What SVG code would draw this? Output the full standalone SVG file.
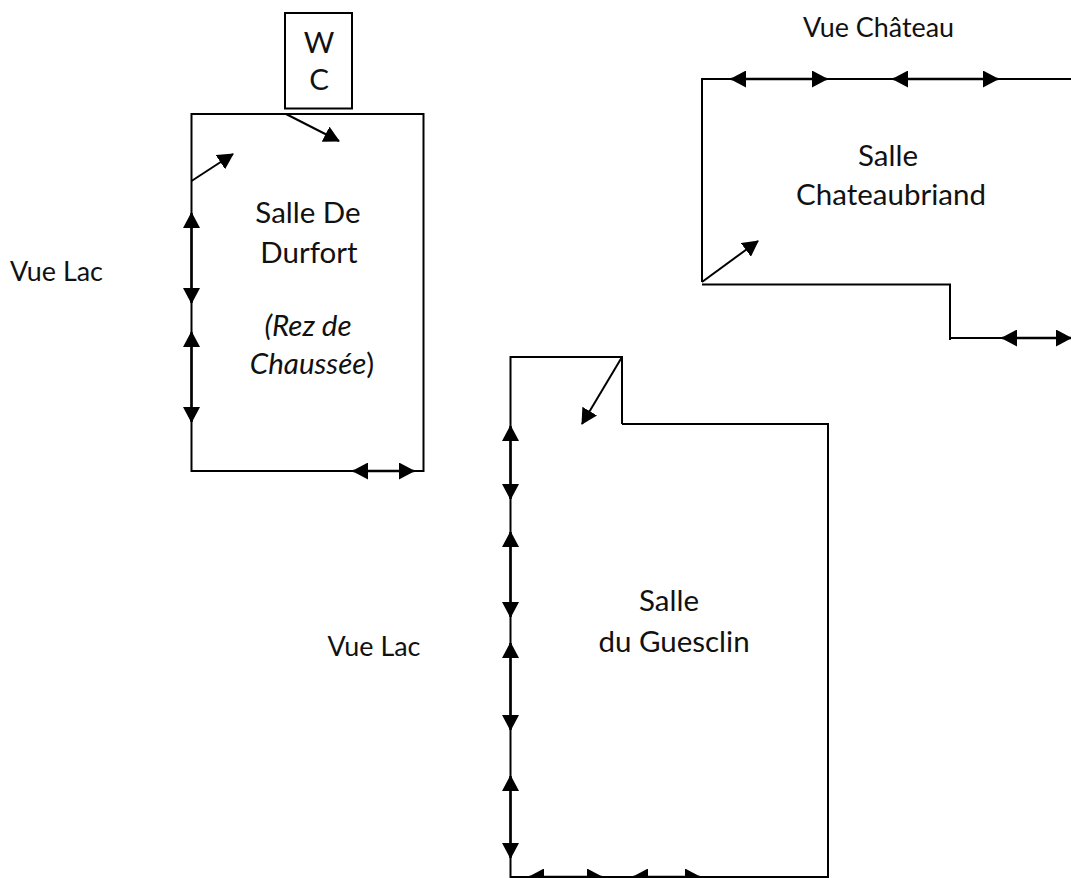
<svg xmlns="http://www.w3.org/2000/svg" width="1071" height="878" viewBox="0 0 1071 878">
<defs>
<marker id="head" markerUnits="userSpaceOnUse" viewBox="0 0 16 17" refX="15" refY="8.500" markerWidth="16" markerHeight="17" orient="auto-start-reverse"><path d="M0 0L16 8.500L0 17Z" fill="#000"/></marker>
</defs>
<style>
text{font-family:"Lato","Carlito","Liberation Sans",sans-serif;font-size:29.500px;fill:#111;text-anchor:middle}
.small{font-size:26.900px}
.it{font-style:italic}
.wall{fill:none;stroke:#000;stroke-width:2}
.both{stroke:#000;stroke-width:2.400;marker-start:url(#head);marker-end:url(#head)}
.one{stroke:#000;stroke-width:2;marker-end:url(#head)}
</style>
<rect width="1071" height="878" fill="#fff"/>
<g id="wc"><rect class="wall" x="285" y="13" width="67" height="95.500"/><text x="319" y="53">W</text><text x="319" y="90">C</text></g>
<g id="salle-durfort"><path class="wall" d="M191.500 114H423.500V471H191.500Z"/><text x="308" y="223">Salle De</text><text x="309" y="263">Durfort</text><text class="it" x="308" y="336">(Rez de</text><text x="312" y="374"><tspan class="it">Chaussée</tspan>)</text></g>
<g id="salle-chateaubriand"><path class="wall" d="M1071 79H702V282M702 284.500H950V338H1071M950 284.500V340"/><text x="888" y="166">Salle</text><text x="891" y="205">Chateaubriand</text></g>
<g id="salle-guesclin"><path class="wall" d="M622 424V357H510.500V877H828V424H622"/><text x="669" y="611">Salle</text><text x="674" y="652">du Guesclin</text></g>
<g id="vue-chateau"><text class="small" x="878.500" y="37">Vue Château</text></g>
<g id="vue-lac-1"><text class="small" x="56.500" y="281">Vue Lac</text></g>
<g id="vue-lac-2"><text class="small" x="374" y="656">Vue Lac</text></g>
<g id="connectors">
<line class="one" x1="286" y1="114" x2="339" y2="141"/>
<line class="one" x1="191.500" y1="181" x2="233" y2="154"/>
<line class="one" x1="702" y1="282" x2="758" y2="241"/>
<line class="one" x1="622" y1="357" x2="582" y2="424"/>
<line class="both" x1="191.500" y1="213" x2="191.500" y2="303"/>
<line class="both" x1="191.500" y1="332" x2="191.500" y2="422"/>
<line class="both" x1="353" y1="471" x2="414" y2="471"/>
<line class="both" x1="731" y1="79" x2="827" y2="79"/>
<line class="both" x1="893" y1="79" x2="998" y2="79"/>
<line class="both" x1="1002" y1="338" x2="1071" y2="338"/>
<line class="both" x1="510.500" y1="426" x2="510.500" y2="499"/>
<line class="both" x1="510.500" y1="532" x2="510.500" y2="617"/>
<line class="both" x1="510.500" y1="643" x2="510.500" y2="730"/>
<line class="both" x1="510.500" y1="776" x2="510.500" y2="858"/>
<line class="both" x1="529" y1="877" x2="602" y2="877"/>
<line class="both" x1="633" y1="877" x2="700" y2="877"/>
</g>
</svg>
